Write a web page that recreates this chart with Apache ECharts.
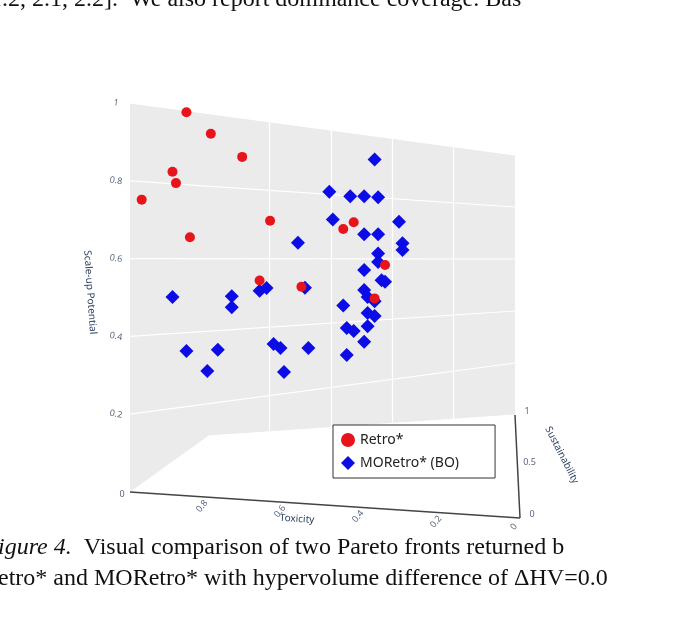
<!DOCTYPE html>
<html><head><meta charset="utf-8">
<script src="https://cdn.jsdelivr.net/npm/echarts@6/dist/echarts.min.js"></script>
<style>html,body{margin:0;padding:0;background:#fff}#c{width:673px;height:623px}</style>
</head><body><div id="c"></div>
<script>
// data: [toxicity, sustainability, scale-up potential]
const retroTox = [0.95,0.88,0.79,0.99,0.98,1.00,0.94,0.71,0.50,0.47,0.74,0.62,0.38,0.41];
const retroSus = [0.5,0.5,0.5,0.5,0.5,0.15,0.5,0.5,0.5,0.5,0.5,0.5,0.5,0.5];
const retroUp  = [0.92,0.885,0.85,0.754,0.727,0.73,0.595,0.694,0.728,0.758,0.518,0.524,0.649,0.534];
const moTox = [0.41,0.54,0.48,0.44,0.40,0.53,0.44,0.40,0.34,0.63,0.33,0.33,0.40,0.40,0.44,0.39,0.38,0.44,0.43,0.41,
  0.99,0.82,0.82,0.72,0.74,0.61,0.50,0.43,0.41,0.49,0.47,0.43,0.95,0.86,0.70,0.68,0.60,0.44,0.49,0.89,0.67];
const moSus = moTox.map(()=>0.5);
const moUp = [0.978,0.829,0.836,0.850,0.861,0.748,0.730,0.742,0.803,0.651,0.735,0.713,0.680,0.653,0.617,0.597,0.595,0.554,0.534,0.525,
  0.431,0.46,0.43,0.501,0.489,0.523,0.492,0.483,0.478,0.425,0.419,0.441,0.296,0.309,0.345,0.336,0.347,0.39,0.341,0.249,0.268];
const toxTicks = [1,0.8,0.6,0.4,0.2,0];
const toxLabels = ['0','0.8','0.6','0.4','0.2','0'];
const susTicks = [0,0.5,1];
const upTicks = [0.2,0.4,0.6,0.8,1];

function proj(t,s,u){
  const a = 1-t;
  const x = 130 + 390*a + s*(78-83*a);
  const y = 492 + 26*a + s*(-56-47*a) - u*(389-129*a);
  return [x,y];
}
const retroPts = retroTox.map((t,i)=>proj(t,retroSus[i],retroUp[i]));
const moPts = moTox.map((t,i)=>proj(t,moSus[i],moUp[i]));

const wall = [proj(1,0,1),proj(0,1,1),proj(0,1,0),proj(1,1,0),proj(1,0,0)];
const gridLines = [];
toxTicks.slice(1,5).forEach(t=>{
  gridLines.push({coords:[proj(t,0,0),proj(t,1,0)]});
  gridLines.push({coords:[proj(t,1,0),proj(t,1,1)]});
});
susTicks.slice(1).forEach(s=>gridLines.push({coords:[proj(1,s,0),proj(0,s,0)]}));
upTicks.forEach(u=>gridLines.push({coords:[proj(1,0,u),proj(0,1,u)]}));
const axisLines = [
  {coords:[proj(1,0,0),proj(0,0,0)]},
  {coords:[proj(0,0,0),proj(0,1,0)]}
];
const tickLabelData = [];
toxTicks.forEach((t,i)=>{const p=proj(t,0,0);tickLabelData.push({value:[p[0]+(i==0?-8:-6),p[1]+(i==0?2:9)],txt:toxLabels[i],label:{rotate:i==0?0:50}});});
susTicks.forEach(s=>{const p=proj(0,s,0);tickLabelData.push({value:[p[0]+12,p[1]-4],txt:String(s),label:{rotate:0}});});
upTicks.forEach(u=>{const p=proj(1,0,u);tickLabelData.push({value:[p[0]-14,p[1]],txt:String(u),label:{rotate:-10}});});

const chart = echarts.init(document.getElementById('c'));
chart.setOption({
  animation:false,
  grid:{left:0,right:0,top:0,bottom:0},
  xAxis:{type:'value',min:0,max:673,show:false},
  yAxis:{type:'value',min:0,max:623,inverse:true,show:false},
  legend:{orient:'vertical',left:333,top:425,itemWidth:14,itemHeight:14,itemGap:9,padding:[8,36,8,8],
    borderColor:'#333',borderWidth:1,backgroundColor:'#fff',
    textStyle:{fontFamily:'Noto Sans',fontSize:14,color:'#222'},
    data:[{name:'Retro*',icon:'circle'},{name:'MORetro* (BO)',icon:'diamond'}]},
  series:[
    {type:'custom',silent:true,z:1,data:[0],renderItem:(p,api)=>({type:'polygon',
      shape:{points:wall.map(c=>api.coord(c))},style:{fill:'#ebebeb'}})},
    {type:'lines',coordinateSystem:'cartesian2d',silent:true,z:2,data:gridLines,lineStyle:{color:'#ffffff',width:1.2,opacity:1}},
    {type:'lines',coordinateSystem:'cartesian2d',silent:true,z:2,data:axisLines,lineStyle:{color:'#444',width:1.5,opacity:1}},
    {type:'scatter',silent:true,z:3,symbolSize:0,data:tickLabelData,
      label:{show:true,formatter:p=>p.data.txt,fontFamily:'Noto Sans',fontSize:9,color:'#2a3f5f',position:'inside'}},
    {name:'Retro*',type:'scatter',z:5,symbol:'circle',symbolSize:10,data:retroPts,itemStyle:{color:'#e8141c',opacity:1}},
    {name:'MORetro* (BO)',type:'scatter',z:4,symbol:'diamond',symbolSize:14,data:moPts,itemStyle:{color:'#0c0ce6',opacity:1}}
  ],
  graphic:[
    {type:'text',x:-10,y:-12,style:{text:'1.2, 2.1, 2.2].  We also report dominance coverage. Bas',font:'24px "Liberation Serif"',fill:'#111'}},
    {type:'text',x:280,y:513,rotation:-0.06,style:{text:'Toxicity',font:'10px "Noto Sans"',fill:'#2a3f5f'}},
    {type:'text',x:92,y:250,rotation:-1.5,style:{text:'Scale-up Potential',font:'10px "Noto Sans"',fill:'#2a3f5f'}},
    {type:'text',x:552,y:425,rotation:-1.1,style:{text:'Sustainability',font:'10px "Noto Sans"',fill:'#2a3f5f'}},
    {type:'text',x:-2,y:536,style:{rich:{i:{font:'italic 24px "Liberation Serif"',fill:'#111'},n:{font:'24px "Liberation Serif"',fill:'#111'}},
      text:'{i|igure 4.}{n|  Visual comparison of two Pareto fronts returned b}'}},
    {type:'text',x:-2,y:567,style:{text:'etro* and MORetro* with hypervolume difference of \u0394HV=0.0',font:'24px "Liberation Serif"',fill:'#111'}}
  ]
});
</script></body></html>
